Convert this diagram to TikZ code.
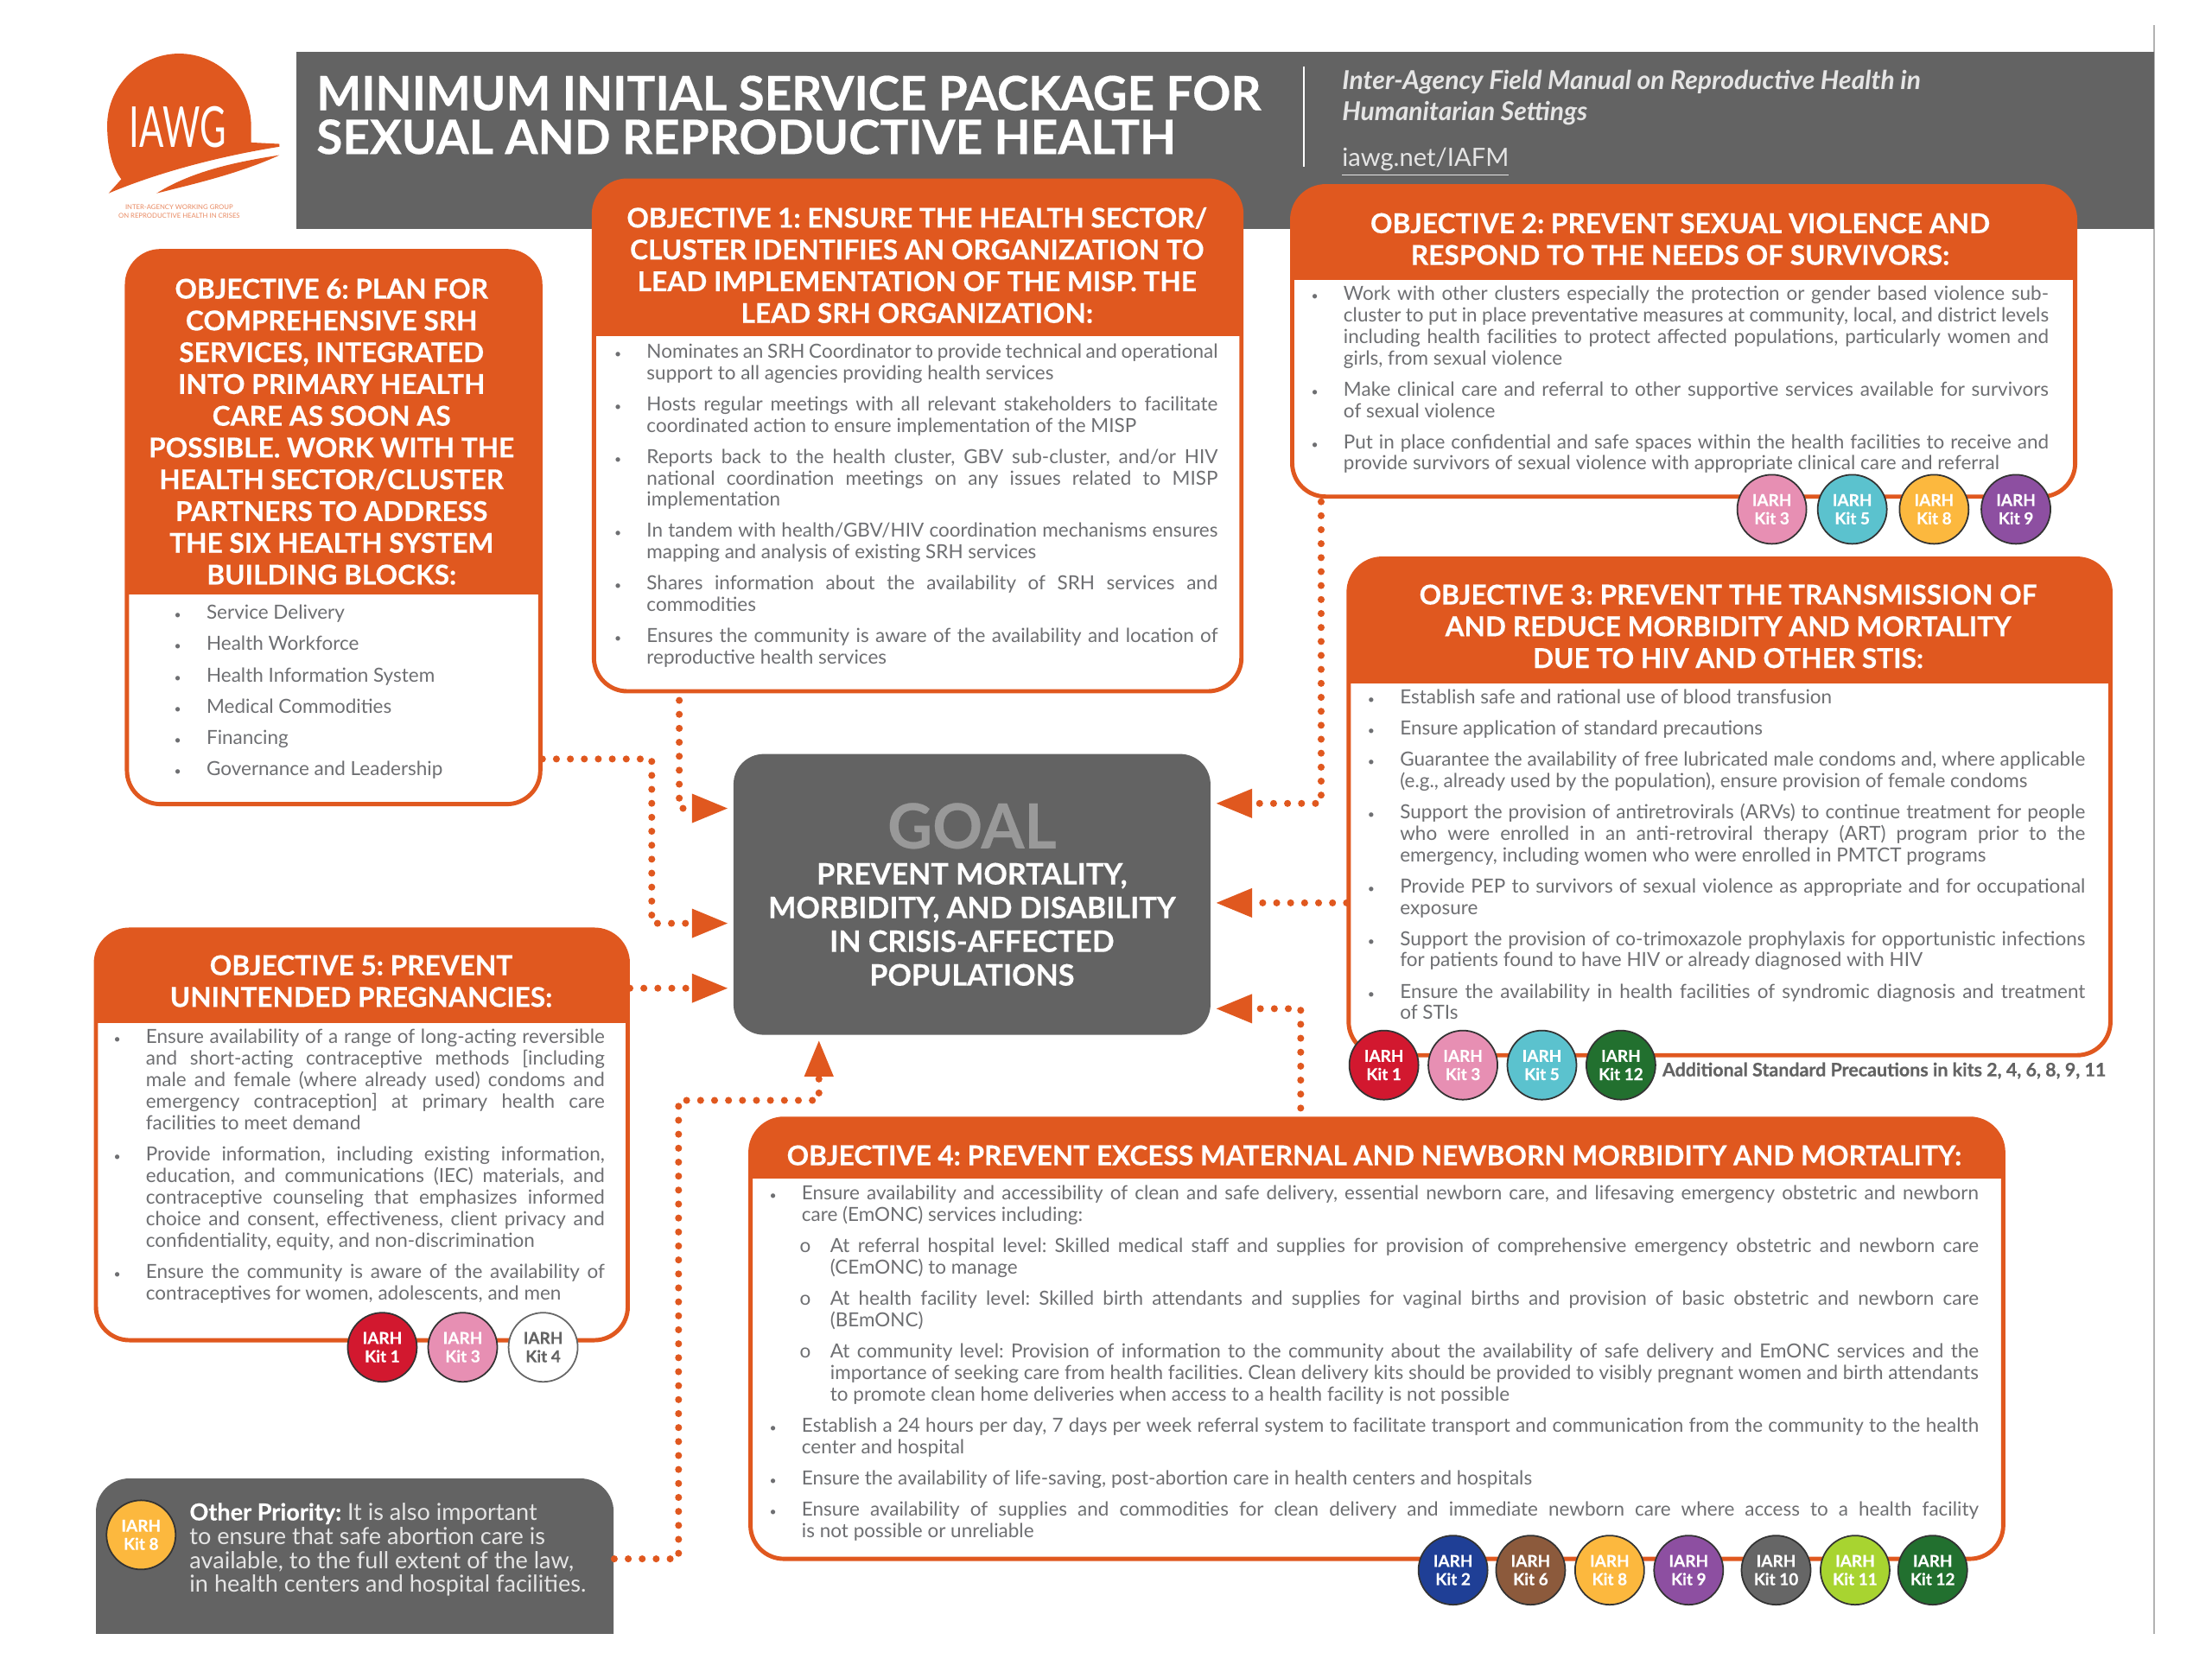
\documentclass[tikz,border=0pt]{standalone}
\usepackage{fontspec}
\setmainfont{Lato}[BoldFeatures={FakeBold=0.35}]
\usepackage{xcolor}
\definecolor{naranja}{HTML}{E0581F}
\definecolor{grisfondo}{HTML}{636363}
\definecolor{gristexto}{HTML}{6E6F72}
\definecolor{kit1}{HTML}{D2182F}
\definecolor{kit2}{HTML}{1F3F96}
\definecolor{kit3}{HTML}{E78FB3}
\definecolor{kit5}{HTML}{5BC2CE}
\definecolor{kit6}{HTML}{8C5A3C}
\definecolor{kit8}{HTML}{FCB83E}
\definecolor{kit9}{HTML}{8D4FA1}
\definecolor{kit10}{HTML}{666666}
\definecolor{kit11}{HTML}{A8D430}
\definecolor{kit12}{HTML}{22702F}
\usetikzlibrary{arrows.meta, positioning, fit}
\tolerance=10000
\hbadness=10000
\hyphenpenalty=10000
\frenchspacing
\newcommand{\bul}{\leavevmode\strut\llap{\fontsize{4}{4}\selectfont\textbullet\hspace{8.3pt}}}
\newcommand{\sbul}{\leavevmode\strut\llap{o\hspace{6.4pt}}}
\newcommand{\objhead}[5][naranja]{%
  \begin{scope}
    \clip (#2,#3) rectangle (#4,#5);
    \fill[#1, rounded corners=11pt] (#2,#3) rectangle (#4,#5+40);
  \end{scope}}

\begin{document}
\begin{tikzpicture}[
  x=0.016327cm, y=-0.016327cm,
  node distance=2.75pt and 1.4cm,
  objbox/.style={
    rectangle, rounded corners=11pt, draw=naranja, fill=white,
    line width=1.4pt, inner sep=0pt
  },
  objtitle/.style={
    text=white, font=\fontsize{9}{10.46}\bfseries\selectfont,
    align=center, inner sep=0pt
  },
  item/.style={
    text=gristexto, font=\fontsize{6.4}{7.1}\selectfont,
    text width=#1, align=justify, inner sep=0pt,
    execute at end node=\strut
  },
  kit/.style={
    circle, draw=black!80, line width=0.5pt, minimum size=0.8cm,
    inner sep=0pt, text=white, align=center,
    font=\fontsize{5.4}{6}\bfseries\selectfont
  },
  dotline/.style={
    naranja, line width=2.3pt, line cap=round,
    dash pattern=on 0pt off 4.6pt
  },
  arr/.style={
    dotline, -{Triangle[length=12pt, width=9pt]}, shorten >=1.5pt
  }
]
  \useasboundingbox (0,0) rectangle (1568,1176);
  \fill[white] (0,0) rectangle (1568,1176);

  % header band
  \draw[black!30, line width=0.6pt] (1527,18) -- (1527,1158);
  \fill[grisfondo] (210,37) rectangle (1527,162);
  \node[anchor=west, inner sep=0pt, text=white, align=left,
        font=\fontsize{15.6}{14.4}\bfseries\selectfont] (titulo) at (224,81.5)
    {MINIMUM INITIAL SERVICE PACKAGE FOR\\SEXUAL AND REPRODUCTIVE HEALTH};
  \draw[white, line width=0.6pt] (924,47) -- (924,118);
  \node[anchor=west, inner sep=0pt, text=white!90!black, align=left,
        font=\fontsize{8.55}{10.2}\bfseries\itshape\selectfont] (manual) at (951,69)
    {Inter-Agency Field Manual on Reproductive Health in\\Humanitarian Settings};
  \node[anchor=west, inner sep=0pt, text=white!90!black,
        font=\fontsize{8.3}{10}\selectfont] (enlace) at (951,115) {\underline{iawg.net/IAFM}};

  % logo
  \fill[naranja] (178,101) -- (178,89) .. controls (178,61) and (155,38) .. (127,38)
    .. controls (99,38) and (76,61) .. (76,89) .. controls (76,104) and (79,118) .. (86,127)
    -- (77,137) .. controls (115,121) and (160,110) .. (198,104) -- (198,102) -- cycle;
  \fill[naranja] (111,137) .. controls (135,122) and (165,115) .. (198,110)
    .. controls (170,123) and (135,131) .. cycle;
  \node[inner sep=0pt, text=white, font=\fontsize{18.6}{20}\selectfont] (logo) at (126,90)
    {\scalebox{0.64}[1]{IAWG}};
  \node[inner sep=0pt, text=naranja!70, align=center,
        font=\fontsize{2.2}{2.8}\selectfont] (logotxt) at (127,150)
    {INTER-AGENCY WORKING GROUP\\ON REPRODUCTIVE HEALTH IN CRISES};

  % objective 6
  \node[objbox, fit={(90,178) (383,570)}] (obj6) {};
  \objhead{90}{178}{383}{421}
  \node[objtitle] (tit6) at (235,306)
    {OBJECTIVE 6: PLAN FOR\\COMPREHENSIVE SRH\\SERVICES, INTEGRATED\\INTO PRIMARY HEALTH\\CARE AS SOON AS\\POSSIBLE. WORK WITH THE\\HEALTH SECTOR/CLUSTER\\PARTNERS TO ADDRESS\\THE SIX HEALTH SYSTEM\\BUILDING BLOCKS:};
  \node[item=4cm, anchor=north west] (f1) at (146,428) {\bul Service Delivery};
  \node[item=4cm, below=of f1] (f2) {\bul Health Workforce};
  \node[item=4cm, below=of f2] (f3) {\bul Health Information System};
  \node[item=4cm, below=of f3] (f4) {\bul Medical Commodities};
  \node[item=4cm, below=of f4] (f5) {\bul Financing};
  \node[item=4cm, below=of f5] (f6) {\bul Governance and Leadership};

  % objective 1
  \node[objbox, fit={(421,128) (880,490)}] (obj1) {};
  \objhead{421}{128}{880}{238}
  \node[objtitle] (tit1) at (650,188)
    {OBJECTIVE 1: ENSURE THE HEALTH SECTOR/\\CLUSTER IDENTIFIES AN ORGANIZATION TO\\LEAD IMPLEMENTATION OF THE MISP. THE\\LEAD SRH ORGANIZATION:};
  \node[item=6.61cm, anchor=north west] (a1) at (458,242.5)
    {\bul Nominates an SRH Coordinator to provide technical and operational\linebreak support to all agencies providing health services};
  \node[item=6.61cm, below=of a1] (a2)
    {\bul Hosts regular meetings with all relevant stakeholders to facilitate\linebreak coordinated action to ensure implementation of the MISP};
  \node[item=6.61cm, below=of a2] (a3)
    {\bul Reports back to the health cluster, GBV sub-cluster, and/or HIV\linebreak national coordination meetings on any issues related to MISP\linebreak implementation};
  \node[item=6.61cm, below=of a3] (a4)
    {\bul In tandem with health/GBV/HIV coordination mechanisms ensures\linebreak mapping and analysis of existing SRH services};
  \node[item=6.61cm, below=of a4] (a5)
    {\bul Shares information about the availability of SRH services and\linebreak commodities};
  \node[item=6.61cm, below=of a5] (a6)
    {\bul Ensures the community is aware of the availability and location of\linebreak reproductive health services};

  % objective 2
  \node[objbox, fit={(916,132) (1471,352)}] (obj2) {};
  \objhead{916}{132}{1471}{198}
  \node[objtitle] (tit2) at (1191,169.5)
    {OBJECTIVE 2: PREVENT SEXUAL VIOLENCE AND\\RESPOND TO THE NEEDS OF SURVIVORS:};
  \node[item=8.16cm, anchor=north west] (b1) at (952,201.5)
    {\bul Work with other clusters especially the protection or gender based violence sub-\linebreak cluster to put in place preventative measures at community, local, and district levels\linebreak including health facilities to protect affected populations, particularly women and\linebreak girls, from sexual violence};
  \node[item=8.16cm, below=of b1] (b2)
    {\bul Make clinical care and referral to other supportive services available for survivors\linebreak of sexual violence};
  \node[item=8.16cm, below=of b2] (b3)
    {\bul Put in place confidential and safe spaces within the health facilities to receive and\linebreak provide survivors of sexual violence with appropriate clinical care and referral};
  \foreach \kn/\kx in {3/1256,5/1313,8/1371,9/1429}
    \node[kit, fill=kit\kn] (kb\kn) at (\kx,361) {IARH\\Kit \kn};

  % objective 3
  \node[objbox, fit={(956,396) (1496,748)}] (obj3) {};
  \objhead{956}{396}{1496}{484}
  \node[objtitle] (tit3) at (1225,444)
    {OBJECTIVE 3: PREVENT THE TRANSMISSION OF\\AND REDUCE MORBIDITY AND MORTALITY\\DUE TO HIV AND OTHER STIS:};
  \node[item=7.93cm, anchor=north west] (c1) at (992,487.5)
    {\bul Establish safe and rational use of blood transfusion};
  \node[item=7.93cm, below=of c1] (c2)
    {\bul Ensure application of standard precautions};
  \node[item=7.93cm, below=of c2] (c3)
    {\bul Guarantee the availability of free lubricated male condoms and, where applicable\linebreak (e.g., already used by the population), ensure provision of female condoms};
  \node[item=7.93cm, below=of c3] (c4)
    {\bul Support the provision of antiretrovirals (ARVs) to continue treatment for people\linebreak who were enrolled in an anti-retroviral therapy (ART) program prior to the\linebreak emergency, including women who were enrolled in PMTCT programs};
  \node[item=7.93cm, below=of c4] (c5)
    {\bul Provide PEP to survivors of sexual violence as appropriate and for occupational\linebreak exposure};
  \node[item=7.93cm, below=of c5] (c6)
    {\bul Support the provision of co-trimoxazole prophylaxis for opportunistic infections\linebreak for patients found to have HIV or already diagnosed with HIV};
  \node[item=7.93cm, below=of c6] (c7)
    {\bul Ensure the availability in health facilities of syndromic diagnosis and treatment\linebreak of STIs};
  \foreach \kn/\kx in {1/981,3/1037,5/1093,12/1149}
    \node[kit, fill=kit\kn] (kc\kn) at (\kx,755) {IARH\\Kit \kn};
  \node[anchor=west, inner sep=0pt, text=grisfondo, font=\fontsize{6.1}{7}\bfseries\selectfont] (extra) at (1178,759)
    {Additional Standard Precautions in kits 2, 4, 6, 8, 9, 11};

  % objective 4
  \node[objbox, fit={(532,793) (1420,1105)}] (obj4) {};
  \objhead{532}{793}{1420}{835}
  \node[objtitle] (tit4) at (974,819)
    {OBJECTIVE 4: PREVENT EXCESS MATERNAL AND NEWBORN MORBIDITY AND MORTALITY:};
  \node[item=13.62cm, anchor=north east] (d1) at (1403,839.5)
    {\bul Ensure availability and accessibility of clean and safe delivery, essential newborn care, and lifesaving emergency obstetric and newborn\linebreak care (EmONC) services including:};
  \node[item=13.29cm, below=of d1.south east, anchor=north east] (d2)
    {\sbul At referral hospital level: Skilled medical staff and supplies for provision of comprehensive emergency obstetric and newborn care\linebreak (CEmONC) to manage};
  \node[item=13.29cm, below=of d2.south east, anchor=north east] (d3)
    {\sbul At health facility level: Skilled birth attendants and supplies for vaginal births and provision of basic obstetric and newborn care\linebreak (BEmONC)};
  \node[item=13.29cm, below=of d3.south east, anchor=north east] (d4)
    {\sbul At community level: Provision of information to the community about the availability of safe delivery and EmONC services and the\linebreak importance of seeking care from health facilities. Clean delivery kits should be provided to visibly pregnant women and birth attendants\linebreak to promote clean home deliveries when access to a health facility is not possible};
  \node[item=13.62cm, below=of d4.south east, anchor=north east] (d5)
    {\bul Establish a 24 hours per day, 7 days per week referral system to facilitate transport and communication from the community to the health\linebreak center and hospital};
  \node[item=13.62cm, below=of d5.south east, anchor=north east] (d6)
    {\bul Ensure the availability of life-saving, post-abortion care in health centers and hospitals};
  \node[item=13.62cm, below=of d6.south east, anchor=north east] (d7)
    {\bul Ensure availability of supplies and commodities for clean delivery and immediate newborn care where access to a health facility\linebreak is not possible or unreliable};
  \foreach \kn/\kx in {2/1030,6/1085,8/1141,9/1197,10/1259,11/1315,12/1370}
    \node[kit, fill=kit\kn] (kd\kn) at (\kx,1113) {IARH\\Kit \kn};

  % objective 5
  \node[objbox, fit={(68,659) (445,950)}] (obj5) {};
  \objhead{68}{659}{445}{725}
  \node[objtitle] (tit5) at (256,695.5)
    {OBJECTIVE 5: PREVENT\\UNINTENDED PREGNANCIES:};
  \node[item=5.31cm, anchor=north west] (e1) at (103,728.5)
    {\bul Ensure availability of a range of long-acting reversible\linebreak and short-acting contraceptive methods [including\linebreak male and female (where already used) condoms and\linebreak emergency contraception] at primary health care\linebreak facilities to meet demand};
  \node[item=5.31cm, below=of e1] (e2)
    {\bul Provide information, including existing information,\linebreak education, and communications (IEC) materials, and\linebreak contraceptive counseling that emphasizes informed\linebreak choice and consent, effectiveness, client privacy and\linebreak confidentiality, equity, and non-discrimination};
  \node[item=5.31cm, below=of e2] (e3)
    {\bul Ensure the community is aware of the availability of\linebreak contraceptives for women, adolescents, and men};
  \foreach \kn/\kx in {1/271,3/328}
    \node[kit, fill=kit\kn] (ke\kn) at (\kx,955) {IARH\\Kit \kn};
  \node[kit, fill=white, text=grisfondo, draw=black!60] (ke4) at (385,955) {IARH\\Kit 4};

  % other priority
  \node[fit={(68,1048) (435,1158)}, inner sep=0pt] (otra) {};
  \objhead[grisfondo]{68}{1048}{435}{1158}
  \node[kit, fill=kit8] (kf8) at (100,1088) {IARH\\Kit 8};
  \node[anchor=west, inner sep=0pt, text=white!90!black, align=left,
        font=\fontsize{7.7}{7.9}\selectfont] (otratxt) at (134,1098.5)
    {{\bfseries\color{white}Other Priority:} It is also important\\to ensure that safe abortion care is\\available, to the full extent of the law,\\in health centers and hospital facilities.};

  % goal
  \node[rectangle, rounded corners=10pt, fill=grisfondo, text=white, align=center,
        minimum width=5.52cm, minimum height=3.25cm, inner sep=0pt,
        font=\fontsize{9.7}{11.1}\bfseries\selectfont] (goal) at (689,634)
    {{\fontsize{20.4}{22}\selectfont\color{black!40}GOAL}\\[0.8pt]PREVENT MORTALITY,\\MORBIDITY, AND DISABILITY\\IN CRISIS-AFFECTED\\POPULATIONS};

  % connectors
  \draw[arr] (obj6.east |- 0,538) -- (462,538) -- (462,654.5) -- (goal.west |- 0,654.5);
  \draw[arr, shorten <=2.3pt] (obj1.south -| 481.5,0) -- (481.5,573) -- (goal.west |- 0,573);
  \draw[arr] (obj5.east |- 0,700.5) -- (goal.west |- 0,700.5);
  \draw[arr, shorten <=1pt] (obj2.south -| 936.5,0) -- (936.5,569.5) -- (goal.east |- 0,569.5);
  \draw[arr] (obj3.west |- 0,640) -- (goal.east |- 0,640);
  \draw[arr, shorten <=2.8pt] (obj4.north -| 922,0) -- (922,715) -- (goal.east |- 0,715);
  \draw[arr] (otra.east |- 0,1105) -- (481,1105) -- (481,780) -- (580.5,780) -- (goal.south -| 580.5,0);
\end{tikzpicture}
\end{document}
